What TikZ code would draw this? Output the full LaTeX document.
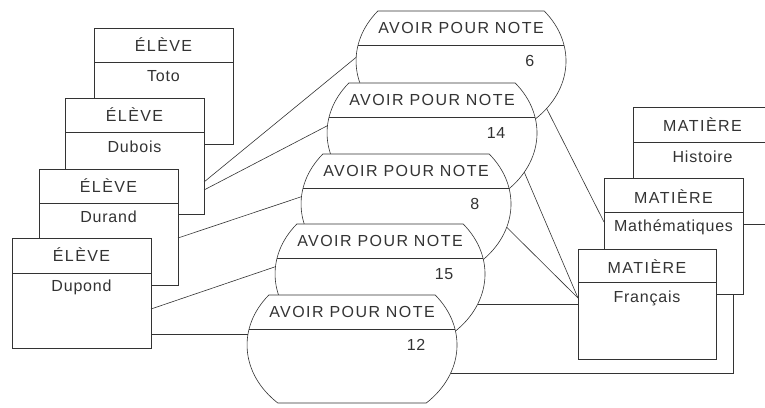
\documentclass[tikz,border=0pt]{standalone}
\usepackage{fontspec}
\setmainfont{Liberation Sans}
\newfontfamily\capsfont[LetterSpace=9]{Liberation Sans}
\newfontfamily\namefont[LetterSpace=5]{Liberation Sans}
\usetikzlibrary{shapes.geometric}
\begin{document}
\begin{tikzpicture}[x=1pt,y=-1pt,line width=0.6pt,color=black!80,
	box/.style={draw,fill=white,anchor=north west,minimum width=139pt,minimum height=116pt,inner sep=0pt,outer sep=0pt},
	hdr/.style={font=\capsfont\fontsize{16}{18}\selectfont},
	nm/.style={font=\namefont\fontsize{16}{18}\selectfont},
	hull/.style={ellipse,minimum width=210pt,minimum height=164pt,inner sep=0pt,outer sep=0pt}]

	\useasboundingbox (0,0) rectangle (765,407);
	\clip (0,0) rectangle (765,407);

	% eleves
	\node[box] (toto) at (94,28) {};
	\draw ([yshift=-34pt]toto.north west) -- ([yshift=-34pt]toto.north east);
	\node[hdr] (toto-h) at ([yshift=-17pt]toto.north) {ÉLÈVE};
	\node[nm] (toto-n) at ([yshift=-48pt]toto.north) {Toto};

	\node[box] (dubois) at (65,98) {};
	\draw ([yshift=-34pt]dubois.north west) -- ([yshift=-34pt]dubois.north east);
	\node[hdr] (dubois-h) at ([yshift=-17pt]dubois.north) {ÉLÈVE};
	\node[nm] (dubois-n) at ([yshift=-49pt]dubois.north) {Dubois};

	\node[box] (durand) at (39,169) {};
	\draw ([yshift=-34pt]durand.north west) -- ([yshift=-34pt]durand.north east);
	\node[hdr] (durand-h) at ([yshift=-17pt]durand.north) {ÉLÈVE};
	\node[nm] (durand-n) at ([yshift=-48pt]durand.north) {Durand};

	\node[box,minimum height=110pt] (dupond) at (12,238) {};
	\draw ([yshift=-35pt]dupond.north west) -- ([yshift=-35pt]dupond.north east);
	\node[hdr] (dupond-h) at ([yshift=-17pt]dupond.north) {ÉLÈVE};
	\node[nm] (dupond-n) at ([yshift=-49pt]dupond.north) {Dupond};

	% notes
	\foreach \i/\cx/\cy/\val in {1/461/61/6,2/432/133/14,3/406/204/8,4/380/274/15,5/352/345/12} {
		\node[hull] (note\i) at (\cx,\cy) {};
		\draw[fill=white] (\cx+83.2,\cy-50) arc[start angle=-37.6,end angle=45,x radius=105,y radius=82]
			-- (\cx-74.2,\cy+58) arc[start angle=135,end angle=217.6,x radius=105,y radius=82] -- cycle;
		\draw (\cx-103,\cy-16) -- (\cx+103,\cy-16);
		\node[hdr] (note\i-h) at (\cx,\cy-33) {AVOIR POUR NOTE};
		\node[nm,anchor=east] (note\i-v) at (\cx+77,\cy) {\val};
	}

	% matieres
	\node[box,minimum height=117pt] (histoire) at (633,107) {};
	\draw ([yshift=-35pt]histoire.north west) -- ([yshift=-35pt]histoire.north east);
	\node[hdr] (histoire-h) at ([yshift=-18pt]histoire.north) {MATIÈRE};
	\node[nm] (histoire-n) at ([yshift=-50pt]histoire.north) {Histoire};

	\node[box] (maths) at (604,178) {};
	\draw ([yshift=-34pt]maths.north west) -- ([yshift=-34pt]maths.north east);
	\node[hdr] (maths-h) at ([yshift=-19pt]maths.north) {MATIÈRE};
	\node[nm] (maths-n) at ([yshift=-49pt]maths.north) {Mathématiques};

	\node[box,minimum width=138pt,minimum height=110pt] (francais) at (578,249) {};
	\draw ([yshift=-33pt]francais.north west) -- ([yshift=-33pt]francais.north east);
	\node[hdr] (francais-h) at ([yshift=-18pt]francais.north) {MATIÈRE};
	\node[nm] (francais-n) at ([yshift=-49pt]francais.north) {Français};

	% liens
	\draw ([yshift=-26pt]dubois.east) -- (note1.178);
	\draw ([yshift=-34pt]dubois.east) -- (note2.176);
	\draw ([yshift=-11pt]durand.east) -- (note3.176);
	\draw ([yshift=-16pt]dupond.east) -- (note4.176);
	\draw (note5.174) -- (note5.174 -| dupond.east);
	\draw (note1.-29) -- ([yshift=14pt]maths.west);
	\draw (note2.-23) -- ([yshift=6pt]francais.west);
	\draw (note3.-13) -- ([yshift=6pt]francais.west);
	\draw (note4.-17) -- (note4.-17 -| francais.west);
	\draw (note5.-16) -| ([xshift=-10pt]maths.south east);

\end{tikzpicture}
\end{document}
